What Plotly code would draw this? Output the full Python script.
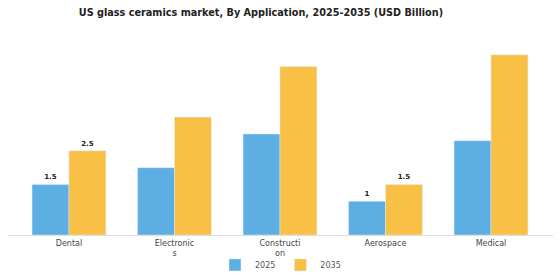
import plotly.graph_objects as go

categories = ["Dental", "Electronic<br>s", "Constructi<br>on", "Aerospace", "Medical"]
values_2025 = [1.5, 2.0, 3.0, 1.0, 2.8]
values_2035 = [2.5, 3.5, 5.0, 1.5, 5.35]
labels_2025 = ["1.5", "", "", "1", ""]
labels_2035 = ["2.5", "", "", "1.5", ""]

fig = go.Figure()
fig.add_trace(go.Bar(
    x=categories, y=values_2025, name="2025", marker_color="#5DAEE3",
    text=labels_2025, textposition="outside", cliponaxis=False,
    textfont=dict(family="DejaVu Sans", size=7, color="#222222", weight="bold"),
))
fig.add_trace(go.Bar(
    x=categories, y=values_2035, name="2035", marker_color="#F8C044",
    text=labels_2035, textposition="outside", cliponaxis=False,
    textfont=dict(family="DejaVu Sans", size=7, color="#222222", weight="bold"),
))

fig.update_layout(
    width=560, height=280,
    margin=dict(l=8, r=7, t=40, b=45, autoexpand=False),
    paper_bgcolor="white", plot_bgcolor="white",
    barmode="group", bargap=0.3, bargroupgap=0,
    title=dict(text="<b>US glass ceramics market, By Application, 2025-2035 (USD Billion)</b>",
               x=0.466, xanchor="center", y=0.955, yanchor="middle",
               font=dict(family="DejaVu Sans", size=9.7, color="#222222")),
    font=dict(family="DejaVu Sans", size=8, color="#444444"),
    showlegend=True,
    legend=dict(orientation="h", x=0.5, xanchor="center", yref="container",
                y=0.054, yanchor="middle", bgcolor="rgba(0,0,0,0)",
                font=dict(size=8, color="#555555"), itemwidth=30),
    xaxis=dict(range=[-0.578, 4.588], showline=True, linecolor="#dddddd", linewidth=1,
               automargin=False,
               ticks="", showgrid=False, tickfont=dict(size=8, color="#444444")),
    yaxis=dict(range=[0, 5.79], visible=False, showgrid=False),
)
fig.write_html("out.html")
